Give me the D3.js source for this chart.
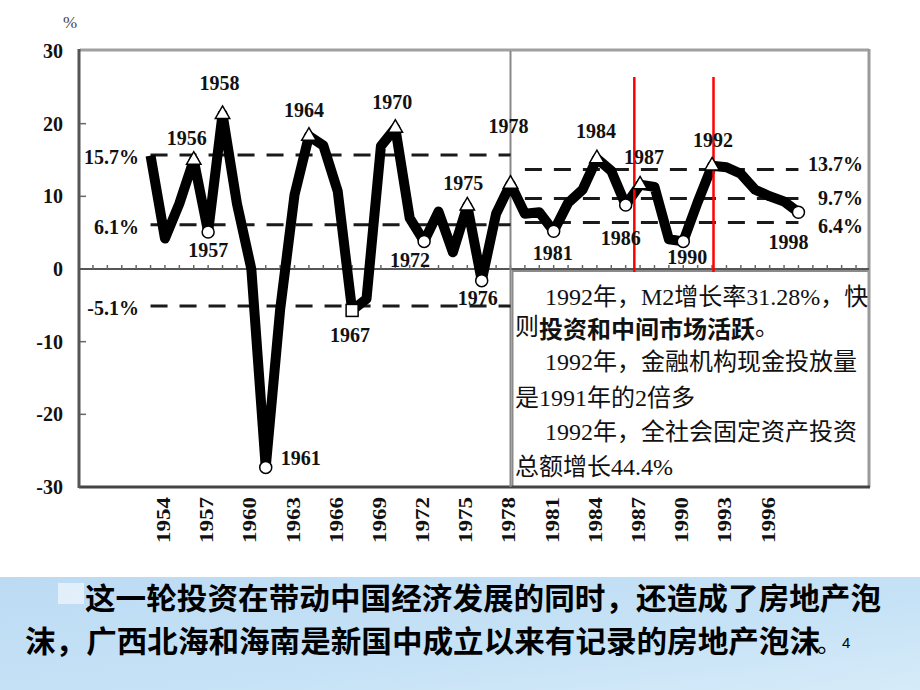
<!DOCTYPE html>
<html><head><meta charset="utf-8">
<script src="https://cdn.jsdelivr.net/npm/d3@7"></script>
<style>
html,body{margin:0;padding:0;background:#fff;}
svg{display:block;}
.num{font-family:"Liberation Serif","Times New Roman",serif;font-weight:bold;fill:#111;}
.cjk{font-family:"Liberation Serif","Noto Sans CJK SC",serif;fill:#111;}
.big{font-family:"Noto Sans CJK SC",sans-serif;font-weight:bold;fill:#000;}
</style></head>
<body>
<svg id="c" width="920" height="690"></svg>
<script>
// ---- data ----
const years = [1953,1954,1955,1956,1957,1958,1959,1960,1961,1962,1963,1964,1965,1966,1967,1968,1969,1970,1971,1972,1973,1974,1975,1976,1977,1978,1979,1980,1981,1982,1983,1984,1985,1986,1987,1988,1989,1990,1991,1992,1993,1994,1995,1996,1997,1998];
const growth = [15.6,4.2,9.0,15.0,5.1,21.3,9.0,0.0,-27.3,-5.6,10.2,18.3,17.0,10.7,-5.7,-4.1,16.9,19.4,7.0,3.8,7.9,2.3,8.7,-1.6,7.6,11.7,7.6,7.8,5.2,9.1,10.9,15.2,13.5,8.8,11.6,11.3,4.1,3.8,9.2,14.2,14.0,13.1,10.9,10.0,9.3,7.8];
const peakYears = [1956,1958,1964,1970,1975,1978,1984,1987,1992];
const troughYears = [1957,1961,1972,1976,1981,1986,1990,1998];
const squareYears = [1967];
const yTicks = [30,20,10,0,-10,-20,-30];
const xTickLabels = [1954,1957,1960,1963,1966,1969,1972,1975,1978,1981,1984,1987,1990,1993,1996];
const leftRefValues = [15.7,6.1,-5.1];
const leftRefLabels = ["15.7%","6.1%","-5.1%"];
const leftRefSpan = [1953,1978];
const rightRefValues = [13.7,9.7,6.4];
const rightRefLabels = ["13.7%","9.7%","6.4%"];
const rightRefSpan = [1979,1998];
const dividerYear = 1978;
const redMarkYears = [1986.6,1992.1];
const noteLines = [
  {indent:true, parts:[{t:"1992年，M2增长率31.28%，快",b:false}]},
  {indent:false, parts:[{t:"则",b:false},{t:"投资和中间市场活跃",b:true},{t:"。",b:false}]},
  {indent:true, parts:[{t:"1992年，金融机构现金投放量",b:false}]},
  {indent:false, parts:[{t:"是1991年的2倍多",b:false}]},
  {indent:true, parts:[{t:"1992年，全社会固定资产投资",b:false}]},
  {indent:false, parts:[{t:"总额增长44.4%",b:false}]}
];
const captionLine1 = "这一轮投资在带动中国经济发展的同时，还造成了房地产泡";
const captionLine2 = "沫，广西北海和海南是新国中成立以来有记录的房地产泡沫";

// ---- layout (styles/positions) ----
const labelOffset = {
  1956:[-7,-22],1958:[-3,-31],1964:[-5,-26],1970:[-3,-26],1975:[-4,-23],1978:[-2,-58],
  1984:[-1,-28],1987:[4,-28],1992:[1,-26],1957:[0,18],1961:[35,-9],1972:[-14,19],
  1976:[-4,17],1981:[-1,22],1986:[-5,33],1990:[4,16],1998:[-10,30],1967:[-2,25]
};
const svg = d3.select("#c");
const L=80, R=869, T=51, B=487;
const x = d3.scaleLinear().domain([1948.1,2002.9]).range([L,R]);
const y = d3.scaleLinear().domain([-30,30]).range([B,T]);
const val = yr => growth[years.indexOf(yr)];

// bottom band
const defs = svg.append("defs");
const g1 = defs.append("linearGradient").attr("id","band").attr("x1","0").attr("y1","0").attr("x2","1").attr("y2","1");
g1.append("stop").attr("offset","0").attr("stop-color","#bcdbf3");
g1.append("stop").attr("offset","0.6").attr("stop-color","#c6e2f6");
g1.append("stop").attr("offset","1").attr("stop-color","#d6ebf9");
svg.append("rect").attr("x",0).attr("y",577).attr("width",920).attr("height",113).attr("fill","url(#band)");
svg.append("rect").attr("x",58).attr("y",583).attr("width",26).attr("height",21).attr("fill","#fff").attr("opacity",0.55);

// annotation box
svg.append("rect").attr("x",x(dividerYear)+2).attr("y",y(0)+2).attr("width",R-x(dividerYear)-2).attr("height",B-y(0)-2)
  .attr("fill","#fff").attr("stroke","#8a8a8a").attr("stroke-width",2);

// frame
svg.append("line").attr("x1",L).attr("x2",R).attr("y1",T-1).attr("y2",T-1).attr("stroke","#a0a0a0").attr("stroke-width",3);
svg.append("line").attr("x1",R).attr("x2",R).attr("y1",T-2).attr("y2",B).attr("stroke","#9a9a9a").attr("stroke-width",3);
svg.append("line").attr("x1",L-1).attr("x2",R+1).attr("y1",B).attr("y2",B).attr("stroke","#444").attr("stroke-width",3);
svg.append("line").attr("x1",L-1).attr("x2",L-1).attr("y1",T-2).attr("y2",B+1).attr("stroke","#555").attr("stroke-width",3);

// zero line + year ticks
svg.append("line").attr("x1",L).attr("x2",R).attr("y1",y(0)).attr("y2",y(0)).attr("stroke","#555").attr("stroke-width",2);
const yearTicks = d3.range(Math.ceil(x.domain()[0]), Math.floor(x.domain()[1])+1);
svg.append("g").selectAll("line").data(yearTicks).join("line")
  .attr("x1",d=>x(d)).attr("x2",d=>x(d)).attr("y1",y(0)-4).attr("y2",y(0)).attr("stroke","#666").attr("stroke-width",1.5);

// y axis labels and ticks
svg.append("g").selectAll("text").data(yTicks).join("text").attr("class","num")
  .attr("x",63).attr("y",d=>y(d)).attr("text-anchor","end").attr("dominant-baseline","central")
  .style("font-size","20px").text(d=>d);
svg.append("g").selectAll("line").data(yTicks.filter(d=>d!==0 && Math.abs(d)!==30)).join("line")
  .attr("x1",L).attr("x2",L+6).attr("y1",d=>y(d)).attr("y2",d=>y(d)).attr("stroke","#666").attr("stroke-width",1.5);
svg.append("text").attr("x",70).attr("y",22).attr("text-anchor","middle").attr("dominant-baseline","central")
  .style("font-family","Liberation Serif,serif").style("font-size","17px").style("fill","#444").text("%");

// x axis labels (rotated)
svg.append("g").selectAll("text").data(xTickLabels).join("text").attr("class","num")
  .attr("transform",d=>`translate(${x(d)-1},497) rotate(-90)`)
  .attr("text-anchor","end").attr("dominant-baseline","central")
  .attr("textLength",46).attr("lengthAdjust","spacingAndGlyphs")
  .style("font-size","18px").text(d=>d);

// divider
svg.append("line").attr("x1",x(dividerYear)).attr("x2",x(dividerYear)).attr("y1",T).attr("y2",B)
  .attr("stroke","#888").attr("stroke-width",2);

// reference dashed lines
function refs(vals, labels, span, side){
  const g = svg.append("g");
  g.selectAll("line").data(vals).join("line")
    .attr("x1",x(span[0])).attr("x2",x(span[1])).attr("y1",d=>y(d)).attr("y2",d=>y(d))
    .attr("stroke","#1a1a1a").attr("stroke-width",3).attr("stroke-dasharray","17,12");
  g.selectAll("text").data(vals).join("text").attr("class","num")
    .attr("x", side==="left" ? 139 : 863)
    .attr("y",(d,i)=>y(d)+(side==="left"? 2 : [-5,-1,4][i]))
    .attr("text-anchor","end").attr("dominant-baseline","central")
    .style("font-size","20px").text((d,i)=>labels[i]);
}
refs(leftRefValues,leftRefLabels,leftRefSpan,"left");
refs(rightRefValues,rightRefLabels,rightRefSpan,"right");

// main line
const line = d3.line().x((d,i)=>x(years[i])).y(d=>y(d)).curve(d3.curveLinear);
svg.append("path").datum(growth).attr("d",line).attr("fill","none")
  .attr("stroke","#000").attr("stroke-width",10).attr("stroke-linejoin","round").attr("stroke-linecap","butt");

// red marks
svg.append("g").selectAll("line").data(redMarkYears).join("line")
  .attr("x1",d=>x(d)).attr("x2",d=>x(d)).attr("y1",77).attr("y2",272)
  .attr("stroke","#ff0000").attr("stroke-width",2.5);

// markers
const tri = d3.symbol().type(d3.symbolTriangle).size(90);
svg.append("g").selectAll("path").data(peakYears).join("path")
  .attr("transform",d=>`translate(${x(d)},${y(val(d))})`).attr("d",tri)
  .attr("fill","#fff").attr("stroke","#000").attr("stroke-width",1.5);
svg.append("g").selectAll("circle").data(troughYears).join("circle")
  .attr("cx",d=>x(d)).attr("cy",d=>y(val(d))).attr("r",6)
  .attr("fill","#fff").attr("stroke","#000").attr("stroke-width",1.5);
svg.append("g").selectAll("rect").data(squareYears).join("rect")
  .attr("x",d=>x(d)-6).attr("y",d=>y(val(d))-6).attr("width",12).attr("height",12)
  .attr("fill","#fff").attr("stroke","#000").attr("stroke-width",1.5);

// year labels
svg.append("g").selectAll("text").data([...peakYears,...troughYears,...squareYears]).join("text").attr("class","num")
  .attr("x",d=>x(d)+labelOffset[d][0]).attr("y",d=>y(val(d))+labelOffset[d][1])
  .attr("text-anchor","middle").attr("dominant-baseline","central")
  .style("font-size","20px").text(d=>d);

// note text
const nt = svg.append("g");
noteLines.forEach((ln,i)=>{
  const t = nt.append("text").attr("class","cjk")
    .attr("x", ln.indent ? 545 : 515).attr("y", [297,327,362,398,432,467][i])
    .attr("dominant-baseline","central").style("font-size","24px");
  ln.parts.forEach(p=>{
    t.append("tspan").text(p.t)
      .style("font-family", p.b ? "Noto Sans CJK SC,sans-serif" : null)
      .style("font-weight", p.b ? "bold" : "normal");
  });
});

// caption
svg.append("text").attr("class","big").attr("x",85).attr("y",596).attr("dominant-baseline","central")
  .attr("textLength",796).attr("lengthAdjust","spacingAndGlyphs").style("font-size","30px").text(captionLine1);
svg.append("text").attr("class","big").attr("x",25).attr("y",639).attr("dominant-baseline","central")
  .attr("textLength",795).attr("lengthAdjust","spacingAndGlyphs").style("font-size","30px").text(captionLine2);
svg.append("text").attr("class","big").attr("x",817).attr("y",641).attr("dominant-baseline","central")
  .style("font-size","24px").style("font-weight","normal").text("。");
svg.append("text").attr("x",842).attr("y",648)
  .style("font-family","Liberation Sans,sans-serif").style("font-size","15px").style("fill","#000").text("4");
</script>
</body></html>
